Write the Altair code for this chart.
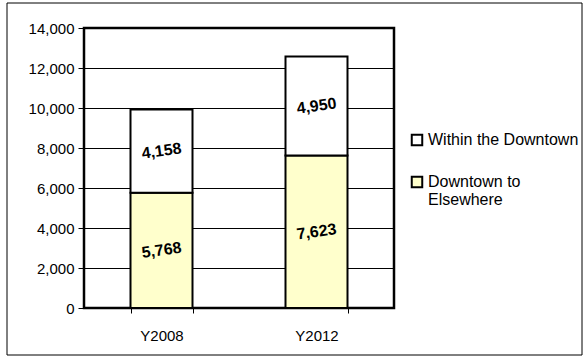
import altair as alt
import pandas as pd

categories = ["Y2008", "Y2012"]
series_names = ["Within the Downtown", "Downtown to Elsewhere"]
elsewhere = [5768, 7623]
within = [4158, 4950]
y_ticks = [0, 2000, 4000, 6000, 8000, 10000, 12000, 14000]

rows = []
for i, c in enumerate(categories):
    rows.append({"cat": c, "series": "Downtown to Elsewhere", "value": elsewhere[i], "ord": 0})
    rows.append({"cat": c, "series": "Within the Downtown", "value": within[i], "ord": 1})
df = pd.DataFrame(rows)

FONT = "Liberation Sans"

base = alt.Chart(df).transform_stack(
    stack="value", as_=["y0", "y1"], groupby=["cat"],
    sort=[alt.SortField(field="ord", order="ascending")]
).transform_calculate(mid="(datum.y0 + datum.y1) / 2")

x_scale = alt.Scale(paddingInner=0.6, paddingOuter=0.3)
y_scale = alt.Scale(domain=[0, 14000], nice=False)

x_axis = alt.Axis(labelAngle=0, tickBand="extent", tickSize=5, tickColor="black",
                  labelFont=FONT, labelFontSize=15, labelColor="black",
                  labelPadding=15, domain=False, grid=False)
y_axis = alt.Axis(values=y_ticks, format=",.0f",
                  grid=True, gridColor="black", gridWidth=1, gridOpacity=1,
                  tickSize=6, tickColor="black", labelPadding=4,
                  labelFont=FONT, labelFontSize=15, labelColor="black",
                  domain=False)

bars = base.mark_bar(stroke="black", strokeWidth=2).encode(
    x=alt.X("cat:N", title=None, sort=categories, scale=x_scale, axis=x_axis),
    y=alt.Y("y0:Q", title=None, scale=y_scale, axis=y_axis),
    y2="y1",
    color=alt.Color("series:N",
                    scale=alt.Scale(domain=series_names, range=["#FFFFFF", "#FFFFCC"]),
                    legend=alt.Legend(title=None, orient="none", legendX=325, legendY=104,
                                      symbolType="square", symbolSize=110,
                                      symbolStrokeColor="black", symbolStrokeWidth=2,
                                      labelFont=FONT, labelFontSize=16, labelColor="black",
                                      labelLimit=220, rowPadding=22, labelOffset=3,
                                      labelExpr="datum.label == 'Downtown to Elsewhere' ? ['Downtown to', 'Elsewhere'] : datum.label")),
)

labels = base.mark_text(font=FONT, fontSize=16, fontWeight="bold", angle=352, color="black").encode(
    x=alt.X("cat:N", title=None, sort=categories, scale=x_scale, axis=x_axis),
    y=alt.Y("mid:Q", title=None, scale=y_scale, axis=y_axis),
    text=alt.Text("value:Q", format=",.0f"),
)

frame = alt.Chart(df).mark_rect(fill=None, stroke="black", strokeWidth=1).encode(
    x=alt.value(-77), x2=alt.value(498), y=alt.value(-25), y2=alt.value(327)
).transform_filter("datum.cat == 'Y2008' && datum.ord == 0")

chart = alt.layer(frame, bars, labels).properties(
    width=310, height=280,
    autosize=alt.AutoSizeParams(type="none"),
    padding={"left": 84, "top": 28, "right": 190, "bottom": 50},
    background="white",
).configure_view(stroke="black", strokeWidth=2.5)

chart.save("out.html", embed_options={"renderer": "svg", "actions": False})
